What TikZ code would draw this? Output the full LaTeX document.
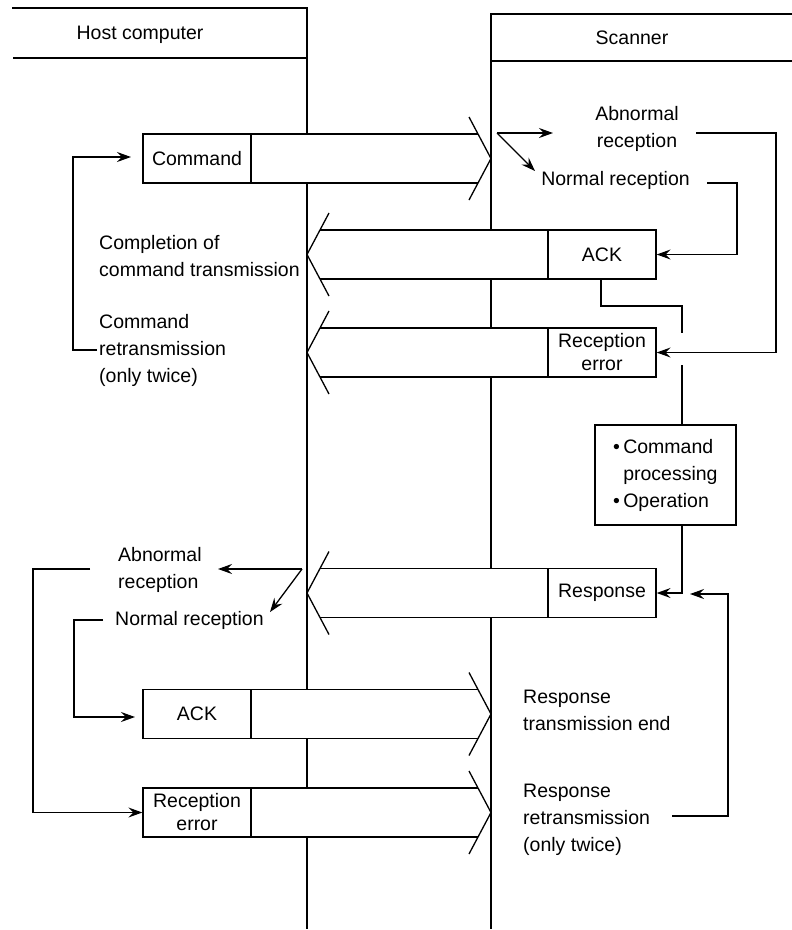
\documentclass[tikz,border=0pt]{standalone}
\usepackage{fontspec}
\setmainfont{Liberation Sans}
\usetikzlibrary{arrows.meta}
\tikzset{
  every node/.style={font=\fontsize{19.5}{27}\selectfont, inner sep=0pt},
  ln/.style={line width=1.3pt},
  arr/.style={ln,-{Stealth[length=14pt,width=10pt,inset=5pt]}},
  lbl/.style={draw, ln, fill=white, minimum width=108pt, minimum height=49pt, align=center},
  tight/.style={font=\fontsize{19.5}{23}\selectfont},
  txt/.style={align=left, anchor=west},
}
% rightward band: name, centre y, options, label
\newcommand{\bandR}[4]{%
  \path[fill=white] (143,#2-24.5) rectangle (478,#2+24.5);
  \draw[ln] (251,#2-24.5) -- (478,#2-24.5) (251,#2+24.5) -- (478,#2+24.5);
  \draw[ln] (469,#2-41.5) -- (491,#2) -- (469,#2+41.5);
  \node[lbl,#3] (#1) at (197,#2) {#4};}
% leftward band: name, centre y, options, label
\newcommand{\bandL}[4]{%
  \path[fill=white] (320,#2-24.5) rectangle (656,#2+24.5);
  \draw[ln] (548,#2-24.5) -- (320,#2-24.5) (548,#2+24.5) -- (320,#2+24.5);
  \draw[ln] (329,#2-41.5) -- (307,#2) -- (329,#2+41.5);
  \node[lbl,#3] (#1) at (602,#2) {#4};}
\begin{document}
\begin{tikzpicture}[x=1pt,y=-1pt]
\useasboundingbox (0,0) rectangle (792,930);
% headers and lifelines
\node (host) at (140,35) {Host computer};
\node (scan) at (632,38) {Scanner};
\coordinate (htop) at (307,8);
\coordinate (hbot) at (307,929);
\coordinate (stop) at (491,14);
\coordinate (sbot) at (491,929);
\draw[ln] (12,8) -- (htop) -- (hbot);
\draw[ln] (13,58) -- (307,58);
\draw[ln] (792,14) -- (stop) -- (sbot);
\draw[ln] (491,61) -- (792,61);
% bands
\bandR{cmd}{158.5}{}{Command}
\bandL{ack}{254.5}{}{ACK}
\bandL{rerr}{352.5}{tight}{Reception\\error}
\bandL{resp}{593}{}{Response}
\bandR{hack}{714}{}{ACK}
\bandR{herr}{812.5}{tight}{Reception\\error}
% scanner side texts
\node[align=center] (abn) at (637,128.5) {Abnormal\\reception};
\node (nrm) at (615.5,180) {Normal reception};
\coordinate (sp) at (497,133);
\draw[arr] (sp) -- (553,133);
\draw[arr] (sp) -- (535,171);
\draw[arr] (696,133) -- (776,133) |- (rerr.east);
\draw[arr] (707,183) -- (737,183) |- (ack.east);
% command processing
\node[draw, ln, minimum width=141pt, minimum height=100pt] (proc) at (665.5,475) {};
\node[txt] (proct) at (613,475.5) {•\,Command\\\hphantom{•\,}processing\\•\,Operation};
\draw[ln] (601,279) -- (601,306) -- (682,306) -- (682,333);
\draw[ln] (682,365) -- (682,425);
\draw[arr] (682,525) |- (resp.east);
% host side upper texts
\node[txt] (compl) at (99,256) {Completion of\\command transmission};
\node[txt] (retr) at (99,350.5) {Command\\retransmission\\(only twice)};
\draw[arr] (97,350) -- (73,350) -- (73,157) -- (131,157);
% host side lower texts
\node[txt] (habn) at (118,570) {Abnormal\\reception};
\node[txt] (hnrm) at (115,620) {Normal reception};
\coordinate (hsp) at (302,569);
\draw[arr] (hsp) -- (218,569);
\draw[arr] (hsp) -- (270,612);
\draw[arr] (90,569) -- (33,569) |- (herr.west);
\draw[arr] (103,620) -- (74,620) |- (135,717);
% response texts
\node[txt] (rte) at (523,710.5) {Response\\transmission end};
\node[txt] (rrt) at (523,819.5) {Response\\retransmission\\(only twice)};
\draw[arr] (672,816) -- (728,816) -- (728,594) -- (690,594);
\end{tikzpicture}
\end{document}
